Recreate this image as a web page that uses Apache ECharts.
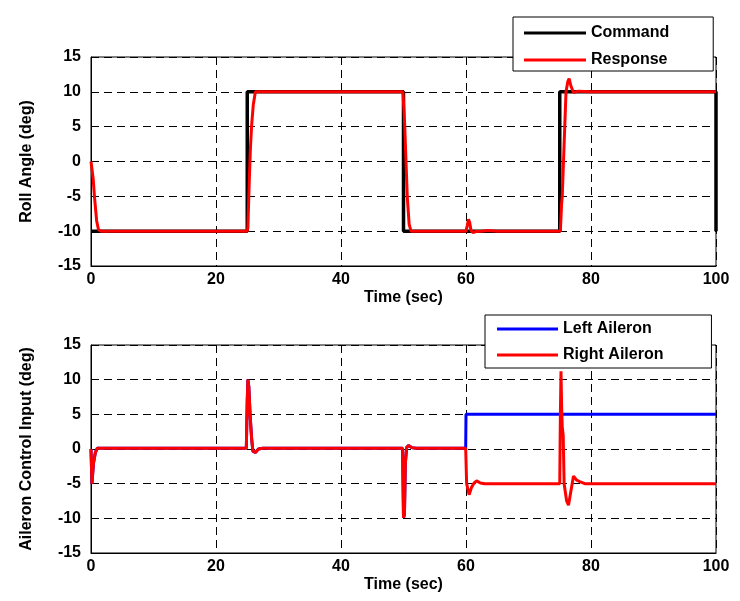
<!DOCTYPE html>
<html>
<head>
<meta charset="utf-8">
<script src="https://cdn.jsdelivr.net/npm/echarts@6/dist/echarts.min.js"></script>
<style>
html,body{margin:0;padding:0;background:#fff;}
#chart{width:740px;height:601px;}
</style>
</head>
<body>
<div id="chart"></div>
<script>
// ---- Data ----
const xTicks = [0, 20, 40, 60, 80, 100];
const yTicks = [-15, -10, -5, 0, 5, 10, 15];

// Top panel: roll angle
const cmdT = [0, 25, 25, 50, 50, 75, 75, 100, 100];
const cmdV = [-10, -10, 10, 10, -10, -10, 10, 10, -10];

const respT = [0, 0.35, 0.55, 0.9, 1.2, 1.6, 25.0, 25.1, 25.33, 25.5, 25.7, 25.96, 26.3, 49.9, 50.1, 50.2, 50.4, 50.6, 50.9, 51.2,
  60.0, 60.2, 60.4, 60.6, 60.8, 61.1, 61.6, 62.5, 63.5, 65.0,
  75.1, 75.3, 75.4, 75.6, 75.8, 76.0, 76.3, 76.5, 76.8, 77.2, 78.0, 80.0, 100];
const respV = [0, -2.5, -5, -8.5, -9.8, -10, -10, -9.5, -2.6, 1.8, 5.2, 8.1, 10, 10, 7, 5, 0, -5, -9, -10,
  -10, -9.2, -8.3, -8.8, -9.9, -10.2, -10.05, -10.0, -9.9, -10.0,
  -10, -6, -5, 0, 5, 10, 11.5, 11.9, 10.8, 9.9, 10.1, 10.0, 10.0];

// Bottom panel: aileron control input (left follows right until the failure at 60 s)
const leftT = [0, 0.15, 0.4, 0.7, 1.0, 24.85, 25.0, 25.1, 25.25, 25.45, 25.7, 25.9, 26.3, 26.8, 27.5,
  49.85, 50.0, 50.15, 50.3, 50.5, 50.8, 51.3, 52.0, 59.95, 60.0, 100];
const leftV = [0, -5, -2, -0.5, 0.1, 0.1, 7, 10, 9, 5, 1.5, -0.3, -0.5, 0, 0.1,
  0.1, -9.9, -9.5, -2, 0.2, 0.5, 0.2, 0.1, 0.1, 5, 5];

const rightT = [0, 0.15, 0.4, 0.7, 1.0, 24.85, 25.0, 25.1, 25.25, 25.45, 25.7, 25.9, 26.3, 26.8, 27.5,
  49.85, 50.0, 50.15, 50.3, 50.5, 50.8, 51.3, 52.0, 59.95,
  60.1, 60.5, 60.9, 61.3, 61.7, 62.3, 63.0, 75.0,
  75.1, 75.2, 75.3, 75.4, 75.55, 75.7, 76.1, 76.4, 76.8, 77.2, 77.7, 78.2, 79.0, 100];
const rightV = [0, -5, -2, -0.5, 0.1, 0.1, 7, 10, 9, 5, 1.5, -0.3, -0.5, 0, 0.1,
  0.1, -9.9, -9.5, -2, 0.2, 0.5, 0.2, 0.1, 0.1,
  -5, -6.6, -5.5, -4.9, -4.6, -4.9, -5.0, -5.0,
  5, 11.2, 6, 3.2, 2, -5, -7.5, -8.1, -6, -3.9, -4.5, -4.7, -5.0, -5.0];

// ---- Chart ----
const FONT = '"Liberation Sans", Arial, sans-serif';
function zip(t, v) { return t.map((x, i) => [x, v[i]]); }

const chart = echarts.init(document.getElementById('chart'), null, {renderer: 'canvas'});

function xAxisCfg(gridIndex) {
  return {
    type: 'value', gridIndex: gridIndex, min: 0, max: 100, interval: 20,
    name: 'Time (sec)', nameLocation: 'middle', nameGap: 24,
    nameTextStyle: {fontFamily: FONT, fontWeight: 'bold', fontSize: 16, color: '#000'},
    axisLine: {show: true, onZero: false, lineStyle: {color: '#000', width: 1}},
    axisTick: {show: false},
    axisLabel: {fontFamily: FONT, fontWeight: 'bold', fontSize: 16, color: '#000', margin: 6,
      formatter: v => xTicks.includes(v) ? String(v) : ''},
    splitLine: {show: true, lineStyle: {color: '#000', width: 1, type: [8, 5]}}
  };
}
function yAxisCfg(gridIndex, name) {
  return {
    type: 'value', gridIndex: gridIndex, min: -15, max: 15, interval: 5,
    name: name, nameLocation: 'middle', nameGap: 56, nameRotate: 90,
    nameTextStyle: {fontFamily: FONT, fontWeight: 'bold', fontSize: 16, color: '#000'},
    axisLine: {show: true, lineStyle: {color: '#000', width: 1}},
    axisTick: {show: false},
    axisLabel: {fontFamily: FONT, fontWeight: 'bold', fontSize: 16, color: '#000', margin: 10,
      formatter: v => yTicks.includes(v) ? String(v) : ''},
    splitLine: {show: true, lineStyle: {color: '#000', width: 1, type: [8, 5]}}
  };
}
function legendCfg(names, left, top, padding, itemWidth, gap) {
  return {
    data: names, left: left, top: top, orient: 'vertical',
    icon: 'rect', itemWidth: itemWidth, itemHeight: 3, itemGap: gap,
    padding: padding, backgroundColor: '#fff', borderColor: '#000', borderWidth: 1,
    selectedMode: false, z: 10,
    textStyle: {fontFamily: FONT, fontWeight: 'bold', fontSize: 16, color: '#000'}
  };
}
function lineSeries(name, t, v, color, width, xi) {
  return {
    name: name, type: 'line', xAxisIndex: xi, yAxisIndex: xi,
    data: zip(t, v), showSymbol: false, symbol: 'none',
    itemStyle: {color: color}, lineStyle: {color: color, width: width},
    animation: false, silent: true
  };
}

chart.setOption({
  animation: false,
  backgroundColor: '#fff',
  grid: [
    {left: 91, top: 57, width: 625, height: 209, show: true, borderColor: '#000', borderWidth: 1, backgroundColor: '#fff'},
    {left: 91, top: 345, width: 625, height: 208, show: true, borderColor: '#000', borderWidth: 1, backgroundColor: '#fff'}
  ],
  xAxis: [xAxisCfg(0), xAxisCfg(1)],
  yAxis: [yAxisCfg(0, 'Roll Angle (deg)'), yAxisCfg(1, 'Aileron Control Input (deg)')],
  legend: [
    legendCfg(['Command', 'Response'], 513, 17, [8, 44, 3, 11], 62, 11),
    legendCfg(['Left Aileron', 'Right Aileron'], 485, 315, [6, 48, 5, 12], 61, 10)
  ],
  series: [
    lineSeries('Command', cmdT, cmdV, '#000000', 3.5, 0),
    lineSeries('Response', respT, respV, '#ff0000', 3, 0),
    lineSeries('Left Aileron', leftT, leftV, '#0000ff', 3, 1),
    lineSeries('Right Aileron', rightT, rightV, '#ff0000', 3, 1)
  ]
});
</script>
</body>
</html>
